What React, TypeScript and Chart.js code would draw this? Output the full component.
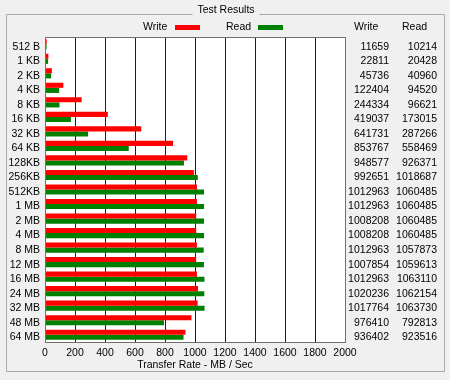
import React, { useEffect, useRef } from "react";
import { Chart, registerables } from "chart.js";
Chart.register(...registerables);

const TITLE = "Test Results";
const AXIS_TITLE = "Transfer Rate - MB / Sec";
const SERIES_NAMES = ["Write", "Read"];
const categories = [
  "512 B", "1 KB", "2 KB", "4 KB", "8 KB", "16 KB", "32 KB", "64 KB", "128KB", "256KB", "512KB",
  "1 MB", "2 MB", "4 MB", "8 MB", "12 MB", "16 MB", "24 MB", "32 MB", "48 MB", "64 MB",
];
const writeKB = [
  11659, 22811, 45736, 122404, 244334, 419037, 641731, 853767, 948577, 992651, 1012963,
  1012963, 1008208, 1008208, 1012963, 1007854, 1012963, 1020236, 1017764, 976410, 936402,
];
const readKB = [
  10214, 20428, 40960, 94520, 96621, 173015, 287266, 558469, 926371, 1018687, 1060485,
  1060485, 1060485, 1060485, 1057873, 1059613, 1063110, 1062154, 1063730, 792813, 923516,
];
const X_MIN = 0;
const X_MAX = 2000;
const X_STEP = 200;

const FAMILY = '"Liberation Sans", Arial, sans-serif';
const SIZE = 10.5;
const FONT = `${SIZE}px ${FAMILY}`;
const RED = "#ff0000";
const GREEN = "#008000";
const GRID_BLUE = "#0000ff";
const LABEL_SHIFT = 2.5;

const panelPlugin = {
  id: "panel",
  beforeDraw(chart: any) {
    const ctx = chart.ctx;
    const { left, top, right, bottom } = chart.chartArea;
    ctx.save();
    ctx.fillStyle = "#f0f0f0";
    ctx.fillRect(0, 0, chart.width, chart.height);
    ctx.strokeStyle = "#a8a8a8";
    ctx.lineWidth = 1;
    ctx.beginPath();
    ctx.moveTo(192.5, 14.5);
    ctx.lineTo(6.5, 14.5);
    ctx.lineTo(6.5, 371.5);
    ctx.lineTo(444.5, 371.5);
    ctx.lineTo(444.5, 14.5);
    ctx.lineTo(259.5, 14.5);
    ctx.stroke();
    ctx.fillStyle = "#000";
    ctx.font = FONT;
    ctx.textAlign = "center";
    ctx.textBaseline = "middle";
    ctx.fillText(TITLE, 226, 10);
    ctx.fillStyle = "#ffffff";
    ctx.fillRect(left, top, right - left, bottom - top);
    ctx.restore();
  },
  afterDatasetsDraw(chart: any) {
    const ctx = chart.ctx;
    const { left, top, right, bottom } = chart.chartArea;
    ctx.save();
    ctx.strokeStyle = "#707070";
    ctx.lineWidth = 1;
    ctx.strokeRect(Math.round(left) + 0.5, Math.round(top) + 0.5, Math.round(right - left), Math.round(bottom - top));
    ctx.restore();
  },
  afterDraw(chart: any) {
    const ctx = chart.ctx;
    const y = chart.scales.y;
    ctx.save();
    ctx.font = FONT;
    ctx.fillStyle = "#000";
    ctx.textBaseline = "middle";
    // legend
    ctx.textAlign = "left";
    ctx.fillText(SERIES_NAMES[0], 143, 27.5);
    ctx.fillText(SERIES_NAMES[1], 226, 27.5);
    ctx.fillStyle = RED;
    ctx.fillRect(175, 25, 25, 5);
    ctx.fillStyle = GREEN;
    ctx.fillRect(258, 25, 25, 5);
    // table
    ctx.fillStyle = "#000";
    ctx.textAlign = "left";
    ctx.fillText(SERIES_NAMES[0], 354, 27.5);
    ctx.fillText(SERIES_NAMES[1], 402, 27.5);
    ctx.textAlign = "right";
    categories.forEach((_, i) => {
      const py = y.getPixelForValue(i) + LABEL_SHIFT;
      ctx.fillText(String(writeKB[i]), 389, py);
      ctx.fillText(String(readKB[i]), 437, py);
    });
    ctx.restore();
  },
};

export default function App() {
  const ref = useRef<HTMLCanvasElement>(null);
  useEffect(() => {
    document.body.style.margin = "0";
    const chart = new Chart(ref.current as HTMLCanvasElement, {
      type: "bar",
      data: {
        labels: categories,
        datasets: [
          { label: SERIES_NAMES[0], data: writeKB.map((v) => v / 1000), backgroundColor: RED, borderWidth: 0 },
          { label: SERIES_NAMES[1], data: readKB.map((v) => v / 1000), backgroundColor: GREEN, borderWidth: 0 },
        ],
      },
      options: {
        indexAxis: "y",
        responsive: false,
        animation: false,
        events: [],
        layout: { padding: { left: 0, top: 37, right: 105, bottom: 0 } },
        datasets: { bar: { categoryPercentage: 0.7, barPercentage: 1.0 } },
        plugins: { legend: { display: false }, tooltip: { enabled: false } },
        scales: {
          x: {
            min: X_MIN,
            max: X_MAX,
            afterFit: (s: any) => { s.height = 38; },
            ticks: {
              stepSize: X_STEP,
              autoSkip: false,
              color: "#000",
              font: { family: FAMILY, size: SIZE },
              padding: 5,
              maxRotation: 0,
              callback: (v: any) => String(v),
            },
            grid: {
              drawTicks: false,
              lineWidth: 1,
              color: (c: any) =>
                c.tick && (c.tick.value === X_MIN || c.tick.value === X_MAX) ? "rgba(0,0,0,0)" : GRID_BLUE,
            },
            border: { display: false },
            title: { display: true, text: AXIS_TITLE, color: "#000", font: { family: FAMILY, size: SIZE }, padding: { top: 0, bottom: 9 } },
          },
          y: {
            afterFit: (s: any) => { s.width = 45; },
            ticks: { color: "#000", font: { family: FAMILY, size: SIZE }, padding: 5, labelOffset: LABEL_SHIFT, autoSkip: false },
            grid: { display: false, drawTicks: false },
            border: { display: false },
          },
        },
      },
      plugins: [panelPlugin],
    } as any);
    return () => chart.destroy();
  }, []);
  return <canvas ref={ref} width={450} height={380} style={{ display: "block" }} />;
}
